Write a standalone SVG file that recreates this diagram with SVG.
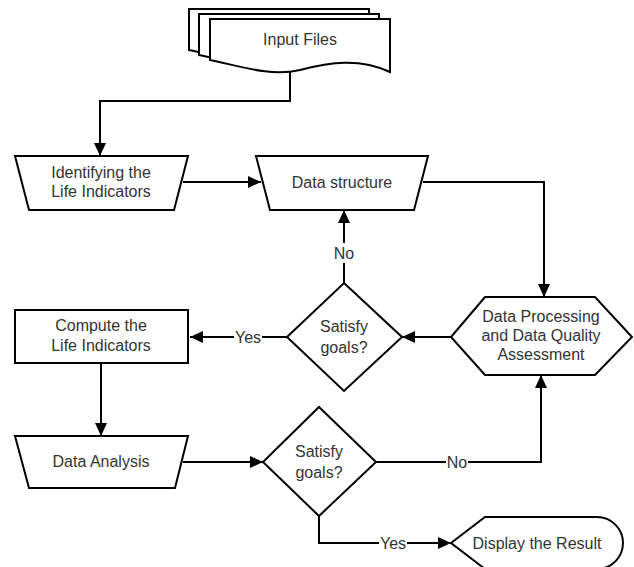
<svg xmlns="http://www.w3.org/2000/svg" width="634" height="567" viewBox="0 0 634 567">
  <style>
    .shape { fill: #ffffff; stroke: #000000; stroke-width: 2; stroke-linejoin: miter; }
    .edge { fill: none; stroke: #000000; stroke-width: 2; }
    .lbl { font-family: "Liberation Sans", Arial, sans-serif; font-size: 16px; fill: #333333; text-anchor: middle; dominant-baseline: central; }
    .elbl { font-family: "Liberation Sans", Arial, sans-serif; font-size: 16px; fill: #333333; text-anchor: middle; dominant-baseline: central; }
    .bg { fill: #ffffff; }
  </style>
  <defs>
    <marker id="arrow" markerUnits="userSpaceOnUse" markerWidth="14" markerHeight="12" refX="13" refY="6" orient="auto">
      <path d="M0,0 L13,6 L0,12 Z" fill="#000000"/>
    </marker>
    <path id="doc" d="M210,19 H390 V72 C360,58 330,62 300,70 C270,77 240,66 210,60 Z"/>
  </defs>

  <rect width="634" height="567" fill="#ffffff"/>

  <!-- connectors -->
  <g id="connectors">
    <path class="edge" d="M290,71 V101 H100 V156" marker-end="url(#arrow)"/>
    <path class="edge" d="M183,182 H261" marker-end="url(#arrow)"/>
    <path class="edge" d="M423,182 H544 V297" marker-end="url(#arrow)"/>
    <path class="edge" d="M451,337 H402" marker-end="url(#arrow)"/>
    <path class="edge" d="M344,283 V210" marker-end="url(#arrow)"/>
    <path class="edge" d="M287,337 H190" marker-end="url(#arrow)"/>
    <path class="edge" d="M101,363 V436" marker-end="url(#arrow)"/>
    <path class="edge" d="M183,462 H263" marker-end="url(#arrow)"/>
    <path class="edge" d="M376,462 H541 V375" marker-end="url(#arrow)"/>
    <path class="edge" d="M319,516 V543 H451" marker-end="url(#arrow)"/>
    <!-- connector labels -->
    <rect class="bg" x="334" y="243" width="20" height="20"/>
    <text class="elbl" x="344" y="253">No</text>
    <rect class="bg" x="234" y="327" width="28" height="20"/>
    <text class="elbl" x="248" y="337">Yes</text>
    <rect class="bg" x="446" y="452" width="22" height="20"/>
    <text class="elbl" x="457" y="462">No</text>
    <rect class="bg" x="379" y="533" width="28" height="20"/>
    <text class="elbl" x="393" y="543">Yes</text>
  </g>

  <g id="input-files">
    <use href="#doc" class="shape" transform="translate(-21,-10)"/>
    <use href="#doc" class="shape" transform="translate(-11,-5)"/>
    <use href="#doc" class="shape"/>
    <text class="lbl" x="300" y="39">Input Files</text>
  </g>

  <g id="identifying">
    <polygon class="shape" points="15,156 188,156 174,210 29,210"/>
    <text class="lbl" x="101" y="172">Identifying the</text>
    <text class="lbl" x="101" y="191">Life Indicators</text>
  </g>

  <g id="data-structure">
    <polygon class="shape" points="256,156 428,156 414,210 270,210"/>
    <text class="lbl" x="342" y="182">Data structure</text>
  </g>

  <g id="processing">
    <polygon class="shape" points="451,337 485,297 595,297 632,337 595,375 485,375"/>
    <text class="lbl" x="541" y="316">Data Processing</text>
    <text class="lbl" x="541" y="335">and Data Quality</text>
    <text class="lbl" x="541" y="354">Assessment</text>
  </g>

  <g id="decision-1">
    <polygon class="shape" points="344,283 402,337 344,391 287,337"/>
    <text class="lbl" x="344" y="326">Satisfy</text>
    <text class="lbl" x="344" y="347">goals?</text>
  </g>

  <g id="compute">
    <rect class="shape" x="15" y="310" width="173" height="53"/>
    <text class="lbl" x="101" y="325">Compute the</text>
    <text class="lbl" x="101" y="345">Life Indicators</text>
  </g>

  <g id="data-analysis">
    <polygon class="shape" points="15,436 188,436 175,488 29,488"/>
    <text class="lbl" x="101" y="461">Data Analysis</text>
  </g>

  <g id="decision-2">
    <polygon class="shape" points="319,407 376,462 319,516 263,462"/>
    <text class="lbl" x="319" y="451">Satisfy</text>
    <text class="lbl" x="319" y="472">goals?</text>
  </g>

  <g id="display">
    <path class="shape" d="M451,543 L485,517 H597 A26,26 0 0 1 597,569 H485 Z"/>
    <text class="lbl" x="537" y="543">Display the Result</text>
  </g>
</svg>
